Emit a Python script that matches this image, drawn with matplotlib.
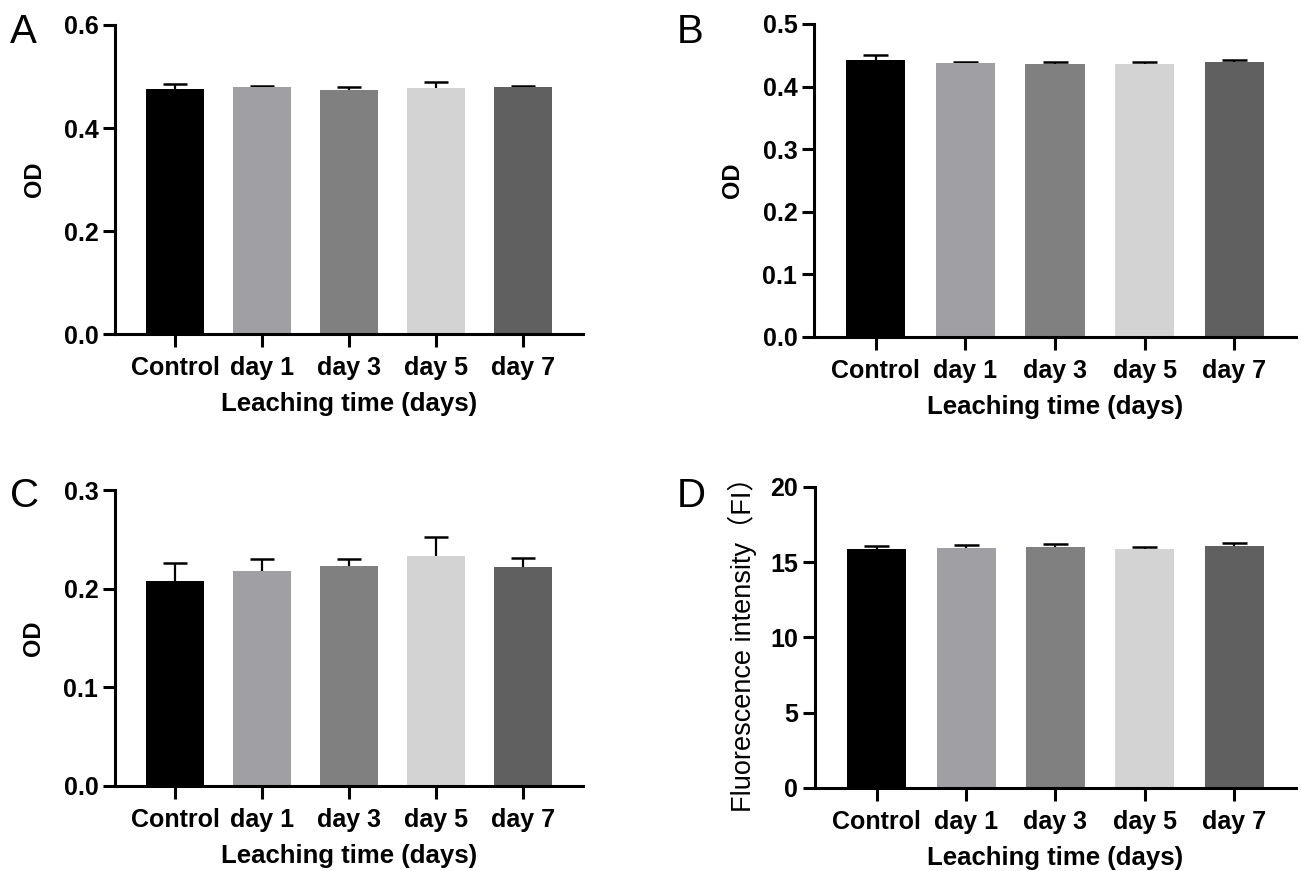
import numpy as np
import matplotlib
matplotlib.use('Agg')
import matplotlib.pyplot as plt

plt.rcParams['font.family'] = ['Liberation Sans', 'Noto Sans CJK SC', 'DejaVu Sans']

groups = ['Control', 'day 1', 'day 3', 'day 5', 'day 7']
bar_colors = ['#000000', '#A0A0A4', '#808080', '#D3D3D3', '#606060']

# panel A - OD
od_a = [0.476, 0.479, 0.474, 0.478, 0.480]
sd_a = [0.009, 0.003, 0.006, 0.011, 0.002]
# panel B - OD
od_b = [0.442, 0.437, 0.436, 0.436, 0.439]
sd_b = [0.009, 0.003, 0.003, 0.004, 0.003]
# panel C - OD
od_c = [0.208, 0.218, 0.223, 0.233, 0.222]
sd_c = [0.018, 0.012, 0.007, 0.019, 0.009]
# panel D - fluorescence intensity
fi_d = [15.89, 15.95, 16.04, 15.89, 16.09]
sd_d = [0.22, 0.20, 0.18, 0.09, 0.16]

yticks_a = [0.0, 0.2, 0.4, 0.6]
yticks_b = [0.0, 0.1, 0.2, 0.3, 0.4, 0.5]
yticks_c = [0.0, 0.1, 0.2, 0.3]
yticks_d = [0, 5, 10, 15, 20]

fig = plt.figure(figsize=(13.01, 8.71), dpi=100)

def panel(rect, vals, errs, yticks, fmt, ylabel, letter, letter_xy, ylab_bold=True, ylab_size=17, ylab_pad=13):
    ax = fig.add_axes(rect)
    x = np.arange(len(groups))
    vals = np.array(vals)
    tops = vals + np.array(errs)
    # upper-only SD bars with a cap
    ax.vlines(x, vals, tops, color='black', linewidth=1.6, zorder=1)
    ax.hlines(tops, x - 0.14, x + 0.14, color='black', linewidth=1.8, zorder=1)
    ax.bar(x, vals, width=0.66, color=bar_colors, zorder=2)
    ax.set_xlim(-0.69, len(groups) - 1 + 0.69)
    ax.set_ylim(yticks[0], yticks[-1])
    ax.set_yticks(yticks)
    ax.set_yticklabels([fmt.format(t) for t in yticks], fontsize=18, fontweight='bold')
    ax.set_xticks(x)
    ax.set_xticklabels(groups, fontsize=18, fontweight='bold')
    for s in ['top', 'right']:
        ax.spines[s].set_visible(False)
    for s in ['left', 'bottom']:
        ax.spines[s].set_linewidth(2.2)
    ax.tick_params(axis='x', length=9.5, width=2.2, pad=6)
    ax.tick_params(axis='y', length=9, width=2.2, pad=3)
    ax.set_xlabel('Leaching time (days)', fontsize=18.5, fontweight='bold', labelpad=9)
    ax.set_ylabel(ylabel, fontsize=ylab_size, fontweight='bold' if ylab_bold else 'normal', labelpad=ylab_pad)
    fig.text(letter_xy[0], letter_xy[1], letter, fontsize=29, ha='left', va='top')
    return ax

panel([0.0884, 0.6165, 0.3597, 0.3548], od_a, sd_a, yticks_a, '{:.1f}', 'OD', 'A', (0.008, 0.985))
panel([0.6257, 0.6131, 0.3705, 0.3594], od_b, sd_b, yticks_b, '{:.1f}', 'OD', 'B', (0.520, 0.985))
panel([0.0884, 0.0976, 0.3597, 0.3398], od_c, sd_c, yticks_c, '{:.1f}', 'OD', 'C', (0.008, 0.452))
panel([0.6264, 0.0953, 0.3697, 0.3456], fi_d, sd_d, yticks_d, '{:d}',
      'Fluorescence intensity\uff08FI\uff09', 'D', (0.520, 0.452),
      ylab_bold=False, ylab_size=19.5, ylab_pad=10)

fig.savefig('out.png', dpi=100)
